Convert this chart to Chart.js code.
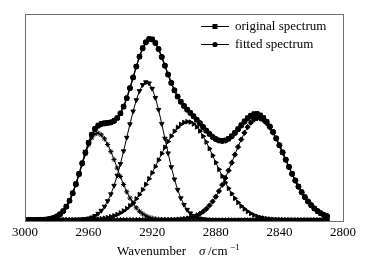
<!DOCTYPE html>
<html>
<head>
<meta charset="utf-8">
<script src="https://cdn.jsdelivr.net/npm/chart.js@4.4.1/dist/chart.umd.min.js"></script>
<style>
  html, body { margin: 0; padding: 0; background: #fff; }
  canvas { display: block; }
</style>
</head>
<body>
<canvas id="c" width="371" height="264"></canvas>
<script>
// Wavenumber (cm^-1) of each sampled point
const wavenumber = [3000,2998,2996,2994,2992,2990,2988,2986,2984,2982,2980,2978,2976,2974,2972,2970,2968,2966,2964,2962,2960,2958,2956,2954,2952,2950,2948,2946,2944,2942,2940,2938,2936,2934,2932,2930,2928,2926,2924,2922,2920,2918,2916,2914,2912,2910,2908,2906,2904,2902,2900,2898,2896,2894,2892,2890,2888,2886,2884,2882,2880,2878,2876,2874,2872,2870,2868,2866,2864,2862,2860,2858,2856,2854,2852,2850,2848,2846,2844,2842,2840,2838,2836,2834,2832,2830,2828,2826,2824,2822,2820,2818,2816,2814,2812,2810];

const originalSpectrum = [0,0,0,0.1,0.2,0.3,0.5,0.8,1.4,2.3,3.7,5.9,9.0,13.6,19.5,27.0,36.2,46.5,57.0,67.8,77.5,85.6,91.4,94.8,96.5,97.1,97.4,97.9,99.2,102.0,106.5,113.2,121.6,131.7,142.4,153.5,163.6,172.1,178.0,181.2,180.9,177.2,171.0,163.0,154.2,145.3,137.0,129.6,123.5,118.4,114.2,110.5,107.2,103.8,100.2,96.6,92.8,89.2,86.0,83.0,80.9,79.6,79.2,79.8,81.4,84.0,87.4,91.2,95.1,98.9,102.2,104.6,106.2,106.4,105.0,102.3,98.4,93.6,88.0,81.6,74.7,67.6,60.3,53.2,46.3,39.7,33.6,28.0,23.0,18.6,14.7,11.4,8.7,6.5,4.8,3.4];

const fittedSpectrum = [0,0,0,0,0.1,0.2,0.3,0.6,1.2,2.0,3.5,5.6,8.8,13.3,19.2,26.7,35.7,45.9,56.7,67.3,77.2,85.3,91.0,94.2,95.8,96.5,96.9,97.5,99.0,101.9,106.7,113.5,122.0,132.0,142.6,153.4,163.3,171.6,177.5,180.7,180.4,176.9,170.9,163.1,154.4,145.5,137.2,129.7,123.4,118.2,113.9,110.2,107.0,103.7,100.3,96.9,93.1,89.5,86.2,83.1,80.9,79.5,79.0,79.5,81.1,83.6,86.9,90.6,94.4,98.2,101.4,103.8,105.2,105.3,104.1,101.7,98.1,93.5,88.0,81.7,74.8,67.7,60.3,53.1,46.1,39.4,33.3,27.7,22.8,18.5,14.8,11.6,9.0,6.9,5.2,3.9];

const peak1 = [0,0,0,0,0.1,0.2,0.3,0.6,1.2,2.0,3.5,5.6,8.8,13.3,19.1,26.6,35.4,45.4,55.9,66.1,75.2,82.1,86.1,86.9,85.1,81.2,75.5,68.4,60.4,51.9,43.5,35.5,28.2,21.9,16.5,12.2,8.7,6.1,4.1,2.7,1.8,1.1,0.7,0.4,0.2,0.1,0.1,0,0,0,0,0,0,0,0,0,0,0,0,0,0,0,0,0,0,0,0,0,0,0,0,0,0,0,0,0,0,0,0,0,0,0,0,0,0,0,0,0,0,0,0,0,0,0,0,0];

const peak2 = [0,0,0,0,0,0,0,0,0,0,0,0,0,0,0.1,0.1,0.2,0.4,0.6,1.0,1.7,2.7,4.2,6.4,9.4,13.5,19.0,25.9,34.4,44.5,56.1,68.9,82.4,95.9,108.7,120.0,129.1,135.2,137.9,136.8,131.4,122.3,110.3,96.3,81.5,66.8,53.0,40.7,30.3,21.9,15.3,10.3,6.8,4.3,2.6,1.6,0.9,0.5,0.3,0.1,0.1,0,0,0,0,0,0,0,0,0,0,0,0,0,0,0,0,0,0,0,0,0,0,0,0,0,0,0,0,0,0,0,0,0,0,0];

const peak3 = [0,0,0,0,0,0,0,0,0,0,0,0,0,0,0,0,0.1,0.1,0.2,0.2,0.3,0.5,0.7,0.9,1.3,1.8,2.4,3.2,4.2,5.5,7.1,9.1,11.4,14.2,17.4,21.2,25.5,30.3,35.5,41.2,47.2,53.5,59.9,66.4,72.6,78.5,83.9,88.7,92.6,95.6,97.5,98.3,97.9,96.1,93.1,89.0,83.8,77.9,71.4,64.5,57.5,50.6,43.9,37.5,31.6,26.3,21.6,17.5,13.9,11.0,8.5,6.5,4.9,3.7,2.7,2.0,1.4,1.0,0.7,0.5,0.3,0.2,0.1,0.1,0.1,0,0,0,0,0,0,0,0,0,0,0];

const peak4 = [0,0,0,0,0,0,0,0,0,0,0,0,0,0,0,0,0,0,0,0,0,0,0,0,0,0,0,0,0,0,0,0,0,0,0,0,0,0,0,0,0,0,0,0,0.1,0.1,0.2,0.3,0.5,0.7,1.1,1.6,2.3,3.3,4.6,6.3,8.4,11.1,14.5,18.5,23.3,28.9,35.1,42.0,49.5,57.3,65.3,73.1,80.5,87.2,92.9,97.3,100.3,101.6,101.4,99.7,96.7,92.5,87.3,81.2,74.5,67.5,60.2,53.0,46.0,39.4,33.3,27.7,22.8,18.5,14.8,11.6,9.0,6.9,5.2,3.9];

const xTicks = [3000, 2960, 2920, 2880, 2840, 2800];
const legendLabels = ['original spectrum', 'fitted spectrum'];

const SERIF = '"Liberation Serif", "Times New Roman", serif';

function pts(arr) { return wavenumber.map((x, i) => ({ x: x, y: arr[i] })); }

function ds(label, arr, style, radius, rotation, width) {
  return {
    label: label,
    data: pts(arr),
    borderColor: '#000',
    backgroundColor: '#000',
    borderWidth: width,
    pointStyle: style,
    pointRadius: radius,
    pointRotation: rotation,
    pointBorderWidth: 1,
    pointBackgroundColor: '#000',
    pointBorderColor: '#000',
    tension: 0,
    fill: false
  };
}

const boxPlugin = {
  id: 'box',
  afterDraw(chart) {
    const a = chart.chartArea, ctx = chart.ctx;
    ctx.save();
    ctx.strokeStyle = '#6e6e6e';
    ctx.lineWidth = 1;
    ctx.strokeRect(Math.round(a.left) + 0.5, Math.round(a.top) + 0.5,
                   Math.round(a.right - a.left), Math.round(a.bottom - a.top));
    // legend
    ctx.font = '13px ' + SERIF;
    ctx.fillStyle = '#000';
    ctx.strokeStyle = '#000';
    ctx.textBaseline = 'middle';
    ctx.textAlign = 'left';
    const rows = [26, 44];
    for (let i = 0; i < 2; i++) {
      const y = rows[i] + 0.5;
      ctx.beginPath();
      ctx.moveTo(201, y); ctx.lineTo(229, y);
      ctx.lineWidth = 1; ctx.stroke();
      ctx.beginPath();
      if (i === 0) { ctx.rect(212.5, y - 2.5, 5, 5); }
      else { ctx.arc(215, y, 2.6, 0, Math.PI * 2); }
      ctx.fill();
      ctx.fillText(legendLabels[i], 235, rows[i] + 1);
    }
    // x-axis title
    const ty = 252;
    ctx.font = '13px ' + SERIF;
    ctx.fillText('Wavenumber', 117, ty);
    ctx.font = 'italic 13px ' + SERIF;
    ctx.fillText('σ', 199, ty);
    ctx.font = '13px ' + SERIF;
    ctx.fillText('/cm', 208, ty);
    ctx.font = '9px ' + SERIF;
    ctx.fillText('−1', 230, ty - 4);
    ctx.restore();
  }
};

new Chart(document.getElementById('c'), {
  type: 'line',
  data: {
    datasets: [
      ds('original spectrum', originalSpectrum, 'rect', 2.8, 0, 1.2),
      ds('fitted spectrum', fittedSpectrum, 'circle', 2.5, 0, 1.2),
      ds('peak 1', peak1, 'star', 2.6, 0, 1),
      ds('peak 2', peak2, 'triangle', 2.6, 180, 1),
      ds('peak 3', peak3, 'triangle', 2.6, 90, 1),
      ds('peak 4', peak4, 'rectRot', 2.6, 0, 1)
    ]
  },
  options: {
    responsive: false,
    animation: false,
    devicePixelRatio: 1,
    layout: { padding: { left: 25, right: 28, top: 14, bottom: 0 } },
    plugins: { legend: { display: false }, tooltip: { enabled: false } },
    scales: {
      x: {
        type: 'linear',
        reverse: true,
        min: 2800,
        max: 3000,
        afterBuildTicks: (s) => { s.ticks = xTicks.map(v => ({ value: v })); },
        afterFit: (s) => { s.height = 43; },
        grid: { display: false, drawTicks: false },
        border: { display: false },
        ticks: {
          padding: 4,
          color: '#000',
          maxRotation: 0,
          autoSkip: false,
          font: { family: SERIF, size: 13 },
          callback: (v) => String(v)
        }
      },
      y: {
        display: false,
        min: -1,
        max: 206
      }
    }
  },
  plugins: [boxPlugin]
});
</script>
</body>
</html>
